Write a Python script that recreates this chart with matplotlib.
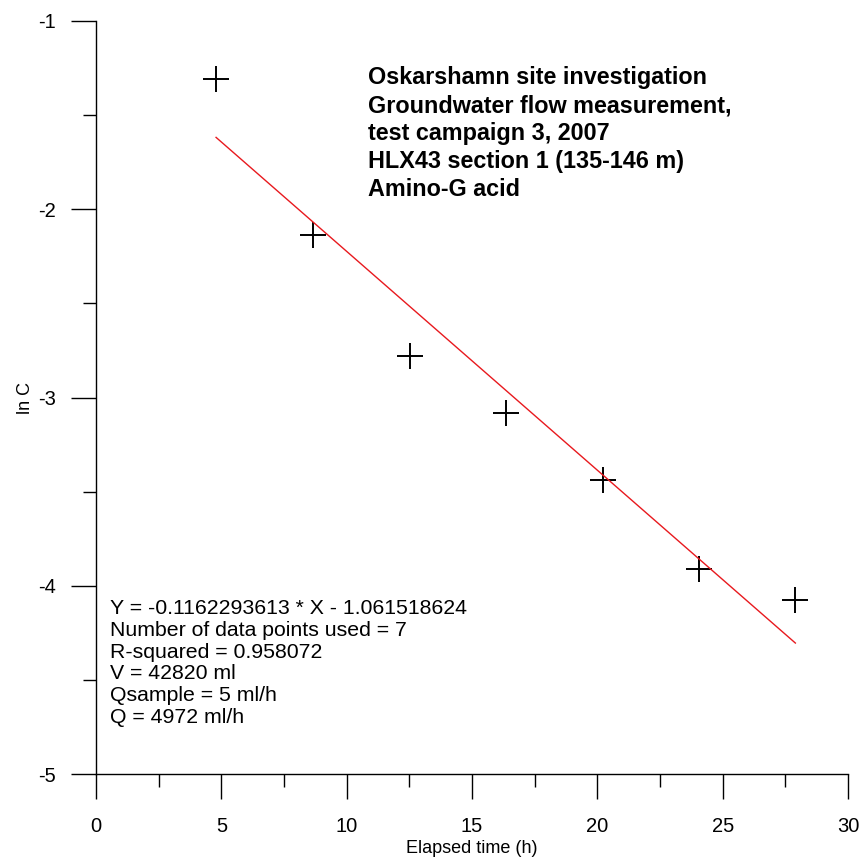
import numpy as np
import matplotlib.pyplot as plt

plt.rcParams['font.family'] = ['Liberation Sans', 'DejaVu Sans']
plt.rcParams['axes.unicode_minus'] = False

# measured points (elapsed time h, ln C)
time_h = [4.79, 8.66, 12.53, 16.35, 20.22, 24.05, 27.9]
ln_c = [-1.31, -2.137, -2.78, -3.08, -3.44, -3.91, -4.076]

# fitted line from the chart legend
slope = -0.1162293613
intercept = -1.061518624

title_lines = ["Oskarshamn site investigation",
               "Groundwater flow measurement,",
               "test campaign 3, 2007",
               "HLX43 section 1 (135-146 m)",
               "Amino-G acid"]
stats_lines = ["Y = -0.1162293613 * X - 1.061518624",
               "Number of data points used = 7",
               "R-squared = 0.958072",
               "V = 42820 ml",
               "Qsample = 5 ml/h",
               "Q = 4972 ml/h"]

fig = plt.figure(figsize=(8.64, 8.61), dpi=100)
# axes box in pixels: x 96..848, y 21..774 (from top)
ax = fig.add_axes([96 / 864, (861 - 774) / 861, (848 - 96) / 864, (774 - 21) / 861])

ax.plot(time_h, ln_c, linestyle='none', marker='+', color='black',
        markersize=19, markeredgewidth=1.4)

xfit = np.array([time_h[0], time_h[-1]])
ax.plot(xfit, slope * xfit + intercept, color='#e8191e', linewidth=1.0)

ax.set_xlim(0, 30)
ax.set_ylim(-5, -1)
ax.set_xticks(np.arange(0, 31, 5))
ax.set_xticks(np.arange(2.5, 30, 5), minor=True)
ax.set_yticks([-5, -4, -3, -2, -1])
ax.set_yticks([-4.5, -3.5, -2.5, -1.5], minor=True)

for s in ['top', 'right']:
    ax.spines[s].set_visible(False)
for s in ['left', 'bottom']:
    ax.spines[s].set_linewidth(1.0)

ax.tick_params(which='major', direction='out', length=18, width=1.0,
               labelsize=14.5)
ax.tick_params(which='minor', direction='out', length=9.5, width=1.0)
ax.tick_params(axis='x', which='major', pad=13)
ax.tick_params(axis='y', which='major', pad=11)

ax.set_xlabel("Elapsed time (h)", fontsize=13, labelpad=3)
ax.set_ylabel("ln C", fontsize=13, labelpad=3)

ax.text(0.3617, 0.94, "\n".join(title_lines), transform=ax.transAxes,
        fontsize=16.8, fontweight='bold', va='top', ha='left', linespacing=1.27)
ax.text(0.018, 0.232, "\n".join(stats_lines), transform=ax.transAxes,
        fontsize=15.3, va='top', ha='left', linespacing=1.18)

fig.savefig("out.png", dpi=100)
